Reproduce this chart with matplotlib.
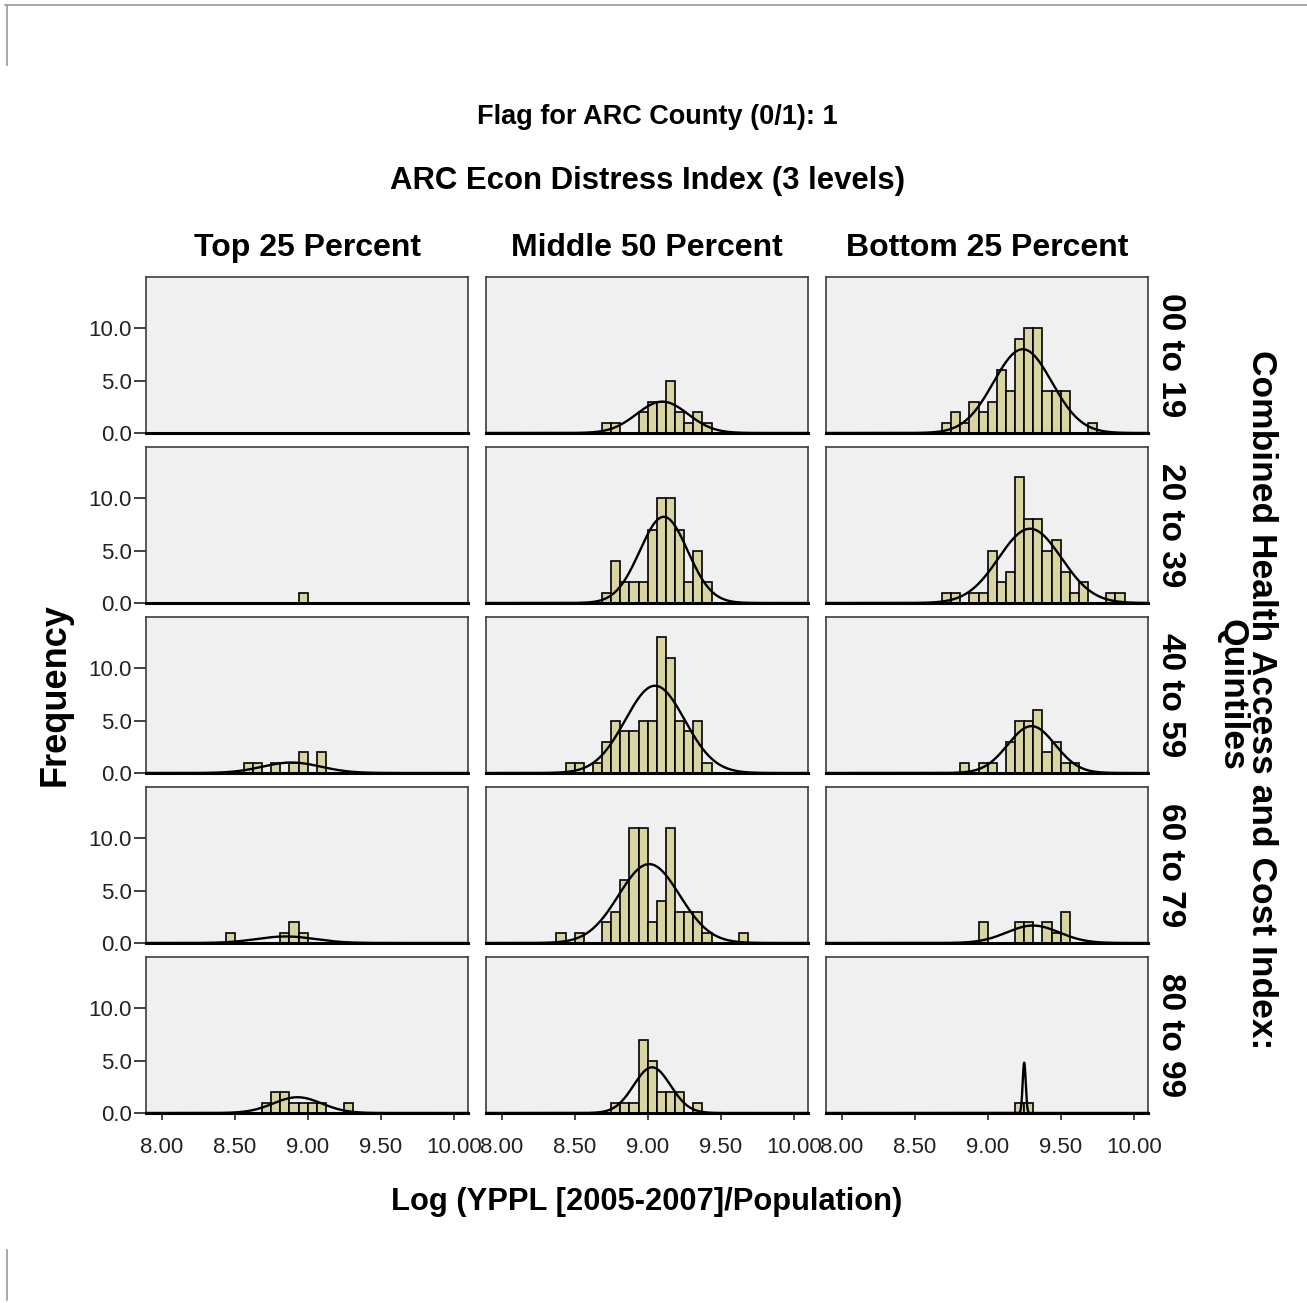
import numpy as np
import matplotlib.pyplot as plt
from matplotlib.lines import Line2D

plt.rcParams['font.family'] = ['Liberation Sans', 'DejaVu Sans']

col_labels = ['Top 25 Percent', 'Middle 50 Percent', 'Bottom 25 Percent']
row_labels = ['00 to 19', '20 to 39', '40 to 59', '60 to 79', '80 to 99']
xticks = [8.0, 8.5, 9.0, 9.5, 10.0]
yticks = [0.0, 5.0, 10.0]

# bins are 1/16 wide, first bin starts at 8.375 (25 bins up to 9.9375)
bin_width = 0.0625
bin_lefts = 8.375 + bin_width * np.arange(25)

# county counts per bin, one list per quintile row
counts_top = [
    [0]*25,
    [0,0,0,0,0,0,0,0,0,1,0,0,0,0,0,0,0,0,0,0,0,0,0,0,0],
    [0,0,0,1,1,0,1,0,1,2,0,2,0,0,0,0,0,0,0,0,0,0,0,0,0],
    [0,1,0,0,0,0,0,1,2,1,0,0,0,0,0,0,0,0,0,0,0,0,0,0,0],
    [0,0,0,0,0,1,2,2,1,1,1,1,0,0,1,0,0,0,0,0,0,0,0,0,0],
]
counts_mid = [
    [0,0,0,0,0,1,1,0,0,2,3,3,5,2,1,2,1,0,0,0,0,0,0,0,0],
    [0,0,0,0,0,1,4,2,2,2,7,10,10,7,2,5,2,0,0,0,0,0,0,0,0],
    [0,1,1,0,1,3,5,4,4,5,5,13,11,5,4,5,1,0,0,0,0,0,0,0,0],
    [1,0,1,0,0,2,3,6,11,11,2,4,11,3,3,3,1,0,0,0,1,0,0,0,0],
    [0,0,0,0,0,0,1,1,1,7,5,2,2,2,0,1,0,0,0,0,0,0,0,0,0],
]
counts_bot = [
    [0,0,0,0,0,1,2,1,3,2,3,6,4,9,10,10,4,4,4,0,0,1,0,0,0],
    [0,0,0,0,0,1,1,0,1,1,5,2,3,12,8,8,5,6,3,1,2,0,0,1,1],
    [0,0,0,0,0,0,0,1,0,1,1,0,3,5,5,6,2,3,1,1,0,0,0,0,0],
    [0,0,0,0,0,0,0,0,0,2,0,0,0,2,2,0,2,1,3,0,0,0,0,0,0],
    [0,0,0,0,0,0,0,0,0,0,0,0,0,1,1,0,0,0,0,0,0,0,0,0,0],
]

# fitted normal curve (mean, sd) for each panel, None where not drawn
mean_top = [None, None, 8.89, 8.85, 8.93]
sd_top = [None, None, 0.20, 0.20, 0.166]
mean_mid = [9.10, 9.11, 9.05, 9.01, 9.03]
sd_mid = [0.175, 0.164, 0.204, 0.209, 0.126]
mean_bot = [9.24, 9.29, 9.30, 9.31, 9.25]
sd_bot = [0.20, 0.215, 0.162, 0.18, 0.0104]

counts_all = [counts_top, counts_mid, counts_bot]
means_all = [mean_top, mean_mid, mean_bot]
sds_all = [sd_top, sd_mid, sd_bot]

W, H = 1307, 1303
fig = plt.figure(figsize=(W/100, H/100), dpi=100)

col_left = [146, 486, 826]
row_top = [277, 447, 617, 787, 957]
pw, ph = 322, 156

xs = np.linspace(7.85, 10.15, 3000)
for r in range(5):
    for c in range(3):
        ax = fig.add_axes([col_left[c]/W, 1-(row_top[r]+ph)/H, pw/W, ph/H])
        ax.set_facecolor('#f0f0f0')
        counts = np.array(counts_all[c][r])
        keep = counts > 0
        ax.bar(bin_lefts[keep], counts[keep], width=bin_width, align='edge',
               color='#d9d5a3', edgecolor='black', linewidth=1.2, zorder=2)
        m = means_all[c][r]
        s = sds_all[c][r]
        if m is not None:
            n = counts.sum()
            ys = n*bin_width*np.exp(-0.5*((xs-m)/s)**2)/(s*np.sqrt(2*np.pi))
            ax.plot(xs, ys, color='black', lw=1.7, zorder=3)
        ax.set_xlim(7.8925, 10.098)
        ax.set_ylim(0, 14.86)
        for side in ['top', 'left', 'right']:
            ax.spines[side].set_color('#3c3c3c')
            ax.spines[side].set_linewidth(1.2)
        ax.spines['bottom'].set_color('black')
        ax.spines['bottom'].set_linewidth(2.2)
        ax.spines['bottom'].set_zorder(4)
        if c == 0:
            ax.set_yticks(yticks)
            ax.set_yticklabels(['%.1f' % v for v in yticks])
            ax.tick_params(axis='y', length=9, width=1.2, pad=1, labelsize=16,
                           colors='#222222')
        else:
            ax.set_yticks([])
        if r == 4:
            ax.set_xticks(xticks)
            ax.set_xticklabels(['%.2f' % v for v in xticks])
            ax.tick_params(axis='x', length=5, width=1.2, pad=12, labelsize=16,
                           colors='#222222')
        else:
            ax.set_xticks([])

# titles and labels
fig.text(657/W, 1-117/H, 'Flag for ARC County (0/1): 1', ha='center', va='center',
         fontsize=19.5, fontweight='bold')
fig.text(647/W, 1-181/H, 'ARC Econ Distress Index (3 levels)', ha='center', va='center',
         fontsize=22.4, fontweight='bold')
for c in range(3):
    fig.text((col_left[c]+pw/2)/W, 1-248/H, col_labels[c], ha='center', va='center',
             fontsize=23, fontweight='bold')
for r in range(5):
    fig.text(1170/W, 1-(row_top[r]+ph/2)/H, row_labels[r], ha='center', va='center',
             rotation=270, fontsize=24, fontweight='bold')
fig.text(1262/W, 1-700/H, 'Combined Health Access and Cost Index:', ha='center',
         va='center', rotation=270, fontsize=25.5, fontweight='bold')
fig.text(1232/W, 1-695/H, 'Quintiles', ha='center', va='center', rotation=270,
         fontsize=25.5, fontweight='bold')
fig.text(55/W, 1-695/H, 'Frequency', ha='center', va='center', rotation=90,
         fontsize=26, fontweight='bold')
fig.text(647/W, 1-1202/H, 'Log (YPPL [2005-2007]/Population)', ha='center', va='center',
         fontsize=22.2, fontweight='bold')

# page frame lines
fig.add_artist(Line2D([5/W, 1], [1-5/H, 1-5/H], color='#9a9a9a', lw=1.2))
fig.add_artist(Line2D([7/W, 7/W], [1-5/H, 1-65/H], color='#9a9a9a', lw=1.2))
fig.add_artist(Line2D([7/W, 7/W], [1-1250/H, 1-1300/H], color='#9a9a9a', lw=1.2))

fig.savefig('out.png', dpi=100)
